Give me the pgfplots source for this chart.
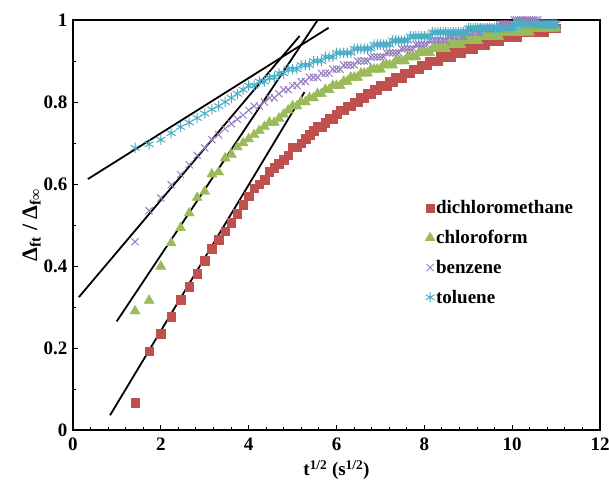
\documentclass[border=0pt]{standalone}
\usepackage{fontspec}
\setmainfont{Liberation Serif}
\usepackage{pgfplots}
\usepackage{pgfplotstable}
\pgfplotsset{compat=1.18}
\definecolor{cred}{RGB}{192,80,77}
\definecolor{cgreen}{RGB}{155,187,89}
\definecolor{cpurple}{RGB}{150,125,190}
\definecolor{ccyan}{RGB}{75,172,198}
\pgfplotstableread{
x d c b t
1.414 0.067 0.290 0.459 0.688
1.732 0.192 0.316 0.535 0.697
2.000 0.235 0.399 0.566 0.708
2.236 0.276 0.456 0.598 0.724
2.449 0.318 0.493 0.623 0.739
2.646 0.349 0.529 0.647 0.750
2.828 0.381 0.567 0.670 0.761
3.000 0.413 0.582 0.688 0.772
3.162 0.442 0.624 0.708 0.782
3.317 0.464 0.629 0.720 0.790
3.464 0.485 0.663 0.735 0.800
3.606 0.506 0.672 0.747 0.810
3.742 0.528 0.690 0.758 0.820
3.873 0.549 0.700 0.768 0.830
4.000 0.57 0.71 0.78 0.84
4.123 0.59 0.72 0.79 0.84
4.243 0.60 0.73 0.79 0.85
4.359 0.61 0.74 0.80 0.85
4.472 0.63 0.75 0.81 0.86
4.583 0.64 0.75 0.81 0.86
4.690 0.65 0.76 0.82 0.87
4.796 0.66 0.77 0.83 0.87
4.899 0.67 0.78 0.83 0.88
5.000 0.69 0.79 0.84 0.88
5.099 0.69 0.79 0.84 0.88
5.196 0.70 0.80 0.85 0.89
5.292 0.71 0.80 0.85 0.89
5.385 0.72 0.81 0.86 0.89
5.477 0.73 0.81 0.86 0.90
5.568 0.74 0.82 0.86 0.90
5.657 0.74 0.82 0.87 0.90
5.745 0.75 0.83 0.87 0.91
5.831 0.76 0.83 0.87 0.91
5.916 0.76 0.84 0.88 0.91
6.000 0.77 0.84 0.88 0.92
6.083 0.78 0.84 0.88 0.92
6.164 0.78 0.85 0.89 0.92
6.245 0.79 0.85 0.89 0.92
6.325 0.79 0.86 0.89 0.92
6.403 0.80 0.86 0.89 0.93
6.481 0.80 0.86 0.90 0.93
6.557 0.81 0.87 0.90 0.93
6.633 0.81 0.87 0.90 0.93
6.708 0.82 0.87 0.90 0.93
6.782 0.82 0.88 0.91 0.93
6.856 0.83 0.88 0.91 0.94
6.928 0.83 0.88 0.91 0.94
7.000 0.84 0.88 0.91 0.94
7.071 0.84 0.89 0.91 0.94
7.141 0.84 0.89 0.92 0.94
7.211 0.85 0.89 0.92 0.94
7.280 0.85 0.89 0.92 0.95
7.348 0.86 0.90 0.92 0.95
7.416 0.86 0.90 0.92 0.95
7.483 0.86 0.90 0.93 0.95
7.550 0.87 0.90 0.93 0.95
7.616 0.87 0.91 0.93 0.95
7.681 0.87 0.91 0.93 0.96
7.746 0.88 0.91 0.93 0.96
7.810 0.88 0.91 0.94 0.96
7.874 0.88 0.92 0.94 0.96
7.937 0.89 0.92 0.94 0.96
8.000 0.89 0.92 0.94 0.96
8.062 0.89 0.92 0.94 0.96
8.124 0.90 0.92 0.95 0.96
8.185 0.90 0.93 0.95 0.97
8.246 0.90 0.93 0.95 0.97
8.307 0.90 0.93 0.95 0.97
8.367 0.91 0.93 0.95 0.97
8.426 0.91 0.93 0.95 0.97
8.485 0.91 0.93 0.95 0.97
8.544 0.91 0.94 0.96 0.97
8.602 0.91 0.94 0.96 0.97
8.660 0.92 0.94 0.96 0.97
8.718 0.92 0.94 0.96 0.97
8.775 0.92 0.94 0.96 0.97
8.832 0.92 0.94 0.96 0.97
8.888 0.93 0.95 0.96 0.97
8.944 0.93 0.95 0.97 0.97
9.000 0.93 0.95 0.97 0.98
9.055 0.93 0.95 0.97 0.98
9.110 0.93 0.95 0.97 0.98
9.165 0.94 0.95 0.97 0.98
9.220 0.94 0.95 0.97 0.98
9.274 0.94 0.96 0.97 0.98
9.327 0.94 0.96 0.98 0.98
9.381 0.94 0.96 0.98 0.98
9.434 0.95 0.96 0.98 0.98
9.487 0.95 0.96 0.98 0.98
9.539 0.95 0.96 0.98 0.98
9.592 0.95 0.96 0.98 0.98
9.644 0.95 0.96 0.98 0.98
9.695 0.95 0.96 0.99 0.98
9.747 0.96 0.97 0.99 0.98
9.798 0.96 0.97 0.99 0.98
9.849 0.96 0.97 0.99 0.98
9.899 0.96 0.97 0.99 0.98
9.950 0.96 0.97 0.99 0.98
10.000 0.96 0.97 0.99 0.98
10.050 0.96 0.97 1.00 0.99
10.100 0.96 0.97 1.00 0.99
10.149 0.97 0.97 1.00 0.99
10.198 0.97 0.97 1.00 0.99
10.247 0.97 0.97 1.00 0.99
10.296 0.97 0.97 1.00 0.99
10.344 0.97 0.97 1.00 0.99
10.392 0.97 0.97 1.00 0.99
10.440 0.97 0.98 1.00 0.99
10.488 0.97 0.98 1.00 0.99
10.536 0.97 0.98 1.00 0.99
10.583 0.97 0.98 1.00 0.99
10.630 0.97 0.98 0.99 0.99
10.677 0.97 0.98 0.99 0.99
10.724 0.97 0.98 0.99 0.99
10.770 0.98 0.98 0.99 0.99
10.817 0.98 0.98 0.99 0.99
10.863 0.98 0.98 0.99 0.99
10.909 0.98 0.98 0.99 0.99
10.954 0.98 0.98 0.99 0.99
11.000 0.98 0.98 0.99 0.99
}\datatable
\begin{document}
\begin{tikzpicture}
\begin{axis}[
  scale only axis,
  width=527pt, height=410pt,
  xmin=0, xmax=12, ymin=0, ymax=1,
  clip=false,
  axis line style={line width=1.8pt},
  xtick={0,2,...,12}, ytick={0,0.2,...,1},
  minor x tick num=4, minor y tick num=1,
  tick align=inside,
  major tick length=5pt, minor tick length=3pt,
  tick style={black, line width=1pt},
  xtick pos=bottom, ytick pos=left,
  /pgf/number format/assume math mode=true,
  tick label style={font=\bfseries\fontsize{19}{21}\selectfont},
  xticklabel style={yshift=-4pt},
  yticklabel style={xshift=-2pt},
  xlabel={\bfseries t\textsuperscript{1/2} (s\textsuperscript{1/2})},
  ylabel={\bfseries Δ\textsubscript{ft} / Δ\textsubscript{f∞}},
  xlabel style={font=\fontsize{19}{21}\selectfont, yshift=-3pt},
  ylabel style={font=\fontsize{22}{24}\selectfont, yshift=-4pt},
  legend style={at={(0.662,0.567)}, anchor=north west, draw=none, fill=none,
    font=\bfseries\fontsize{19}{21}\selectfont, row sep=13pt,
    nodes={inner sep=1pt}},
  legend cell align=left,
  legend image code/.code={\draw[#1] plot coordinates {(0.05cm,0cm)};},
]
\addplot[only marks, mark=square*, mark size=4.3pt, color=cred] table[x=x,y=d]{\datatable};
\addlegendentry{dichloromethane}
\addplot[only marks, mark=triangle*, mark size=5.8pt, color=cgreen] table[x=x,y=c]{\datatable};
\addlegendentry{chloroform}
\addplot[only marks, mark=x, mark size=5pt, color=cpurple, mark options={line width=1pt}] table[x=x,y=b]{\datatable};
\addlegendentry{benzene}
\addplot[only marks, mark=asterisk, mark size=5.2pt, color=ccyan, mark options={line width=1pt}] table[x=x,y=t]{\datatable};
\addlegendentry{toluene}
\addplot[black, line width=1.8pt, forget plot] coordinates {(0.338,0.612) (5.82,0.981)};
\addplot[black, line width=1.8pt, forget plot] coordinates {(0.133,0.324) (5.16,0.961)};
\addplot[black, line width=1.8pt, forget plot] coordinates {(0.996,0.265) (5.56,0.998)};
\addplot[black, line width=1.8pt, forget plot] coordinates {(0.844,0.036) (5.27,0.824)};
\end{axis}
\pgfresetboundingbox
\path[use as bounding box] ([shift={(-73pt,-58pt)}]current axis.south west) rectangle ([shift={(9pt,20pt)}]current axis.north east);
\end{tikzpicture}
\end{document}
